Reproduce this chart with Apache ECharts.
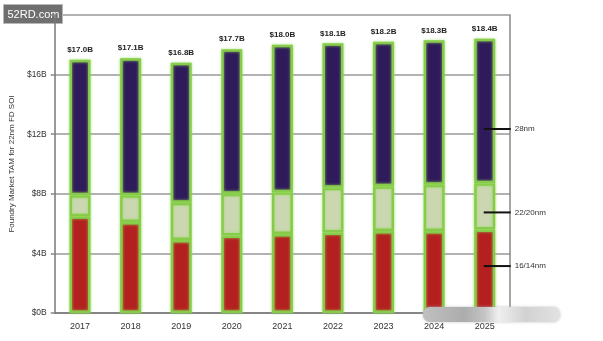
<!DOCTYPE html>
<html>
<head>
<meta charset="utf-8">
<script src="https://cdn.jsdelivr.net/npm/echarts@6/dist/echarts.min.js"></script>
<style>
  html, body { margin: 0; padding: 0; background: #fff; }
  #chart { width: 603px; height: 341px; }
</style>
</head>
<body>
<div id="chart"></div>
<script>
// Foundry market TAM for 22nm FD-SOI, by node group ($B)
const years = ['2017', '2018', '2019', '2020', '2021', '2022', '2023', '2024', '2025'];
const totals = [17.0, 17.1, 16.8, 17.7, 18.0, 18.1, 18.2, 18.3, 18.4];
const node16 = [6.5, 6.1, 4.9, 5.2, 5.3, 5.4, 5.5, 5.5, 5.6];
const node22 = [1.4, 1.8, 2.5, 2.8, 2.8, 3.0, 3.0, 3.1, 3.1];
const node28 = [9.1, 9.2, 9.4, 9.7, 9.9, 9.7, 9.7, 9.7, 9.7];
const yTicks = [0, 4, 8, 12, 16, 20];
const seriesNames = ['16/14nm', '22/20nm', '28nm'];
// value at which each callout line meets the last bar
const calloutValues = [3.15, 6.75, 12.35];

const chart = echarts.init(document.getElementById('chart'));

const green = '#86cc4a';
function seg(name, data, color, extra) {
  return Object.assign({
    name: name,
    type: 'bar',
    stack: 'tam',
    data: data,
    barWidth: 21,
    itemStyle: {
      color: color,
      borderColor: green,
      borderWidth: 2.5,
      shadowColor: 'rgba(150,220,90,0.8)',
      shadowBlur: 3
    }
  }, extra || {});
}

chart.setOption({
  animation: false,
  grid: { left: 54, right: 93, top: 15, bottom: 28 },
  xAxis: {
    type: 'category',
    data: years,
    axisLine: { lineStyle: { color: '#777', width: 1.5 } },
    axisTick: { show: false },
    axisLabel: { color: '#333', fontSize: 9, fontFamily: 'Liberation Sans', margin: 9 }
  },
  yAxis: [{
    type: 'value',
    min: yTicks[0],
    max: yTicks[yTicks.length - 1],
    interval: 4,
    name: 'Foundry Market TAM for 22nm FD SOI',
    nameLocation: 'middle',
    nameGap: 33,
    nameTextStyle: { color: '#333', fontSize: 8, fontFamily: 'Liberation Sans' },
    axisLine: { show: true, lineStyle: { color: '#777', width: 1.5 } },
    axisTick: { show: true, length: 4, lineStyle: { color: '#888', width: 1.5 } },
    axisLabel: {
      color: '#333', fontSize: 8.5, fontFamily: 'Liberation Sans', margin: 8,
      formatter: v => (v === 20 ? '' : '$' + v + 'B')
    },
    splitLine: { lineStyle: { color: '#999', width: 1.5 } }
  }, {
    type: 'value',
    min: yTicks[0],
    max: yTicks[yTicks.length - 1],
    interval: 4,
    position: 'right',
    axisLine: { show: true, lineStyle: { color: '#888', width: 1.5 } },
    axisTick: { show: false },
    axisLabel: { show: false },
    splitLine: { show: false }
  }],
  series: [
    seg(seriesNames[0], node16, '#b3201f'),
    seg(seriesNames[1], node22, '#cbd7b1'),
    seg(seriesNames[2], node28, '#2f1a5b', {
      label: {
        show: true,
        position: 'top',
        distance: 6,
        color: '#222',
        fontSize: 8,
        fontWeight: 'bold',
        fontFamily: 'Liberation Sans',
        formatter: p => '$' + totals[p.dataIndex].toFixed(1) + 'B'
      }
    })
  ]
});

// Callouts naming each segment beside the last bar, plus page decorations
const last = years[years.length - 1];
const graphics = [];
calloutValues.forEach((v, i) => {
  const p = chart.convertToPixel({ xAxisIndex: 0, yAxisIndex: 0 }, [last, v]);
  graphics.push({
    type: 'line',
    z: 100,
    shape: { x1: p[0] - 1, y1: p[1], x2: p[0] + 26, y2: p[1] },
    style: { stroke: '#111', lineWidth: 2 }
  });
  graphics.push({
    type: 'text',
    z: 100,
    x: p[0] + 30,
    y: p[1],
    style: {
      text: seriesNames[i],
      fill: '#333',
      font: '8px "Liberation Sans"',
      textVerticalAlign: 'middle'
    }
  });
});

// site badge
graphics.push({
  type: 'group', left: 3, top: 4, z: 100,
  children: [
    { type: 'rect', shape: { x: 0, y: 0, width: 59, height: 19 },
      style: { fill: '#6f6f6f', stroke: '#b8b8b8', lineWidth: 1 } },
    { type: 'text', x: 4, y: 10,
      style: { text: '52RD.com', fill: '#fff', font: '11px "Liberation Sans"', textVerticalAlign: 'middle' } }
  ]
});

// smudged patch over the last axis labels
graphics.push({
  type: 'rect',
  z: 100,
  shape: { x: 423, y: 307, width: 137, height: 15, r: 7 },
  style: {
    fill: new echarts.graphic.LinearGradient(0, 0, 1, 0, [
      { offset: 0, color: '#c0c0c0' },
      { offset: 0.3, color: '#acacac' },
      { offset: 0.45, color: '#c4c4c4' },
      { offset: 0.55, color: '#efefef' },
      { offset: 0.75, color: '#d2d2d2' },
      { offset: 1, color: '#e2e2e2' }
    ]),
    shadowBlur: 3,
    shadowColor: 'rgba(180,180,180,0.8)'
  }
});

chart.setOption({ graphic: graphics });
</script>
</body>
</html>
